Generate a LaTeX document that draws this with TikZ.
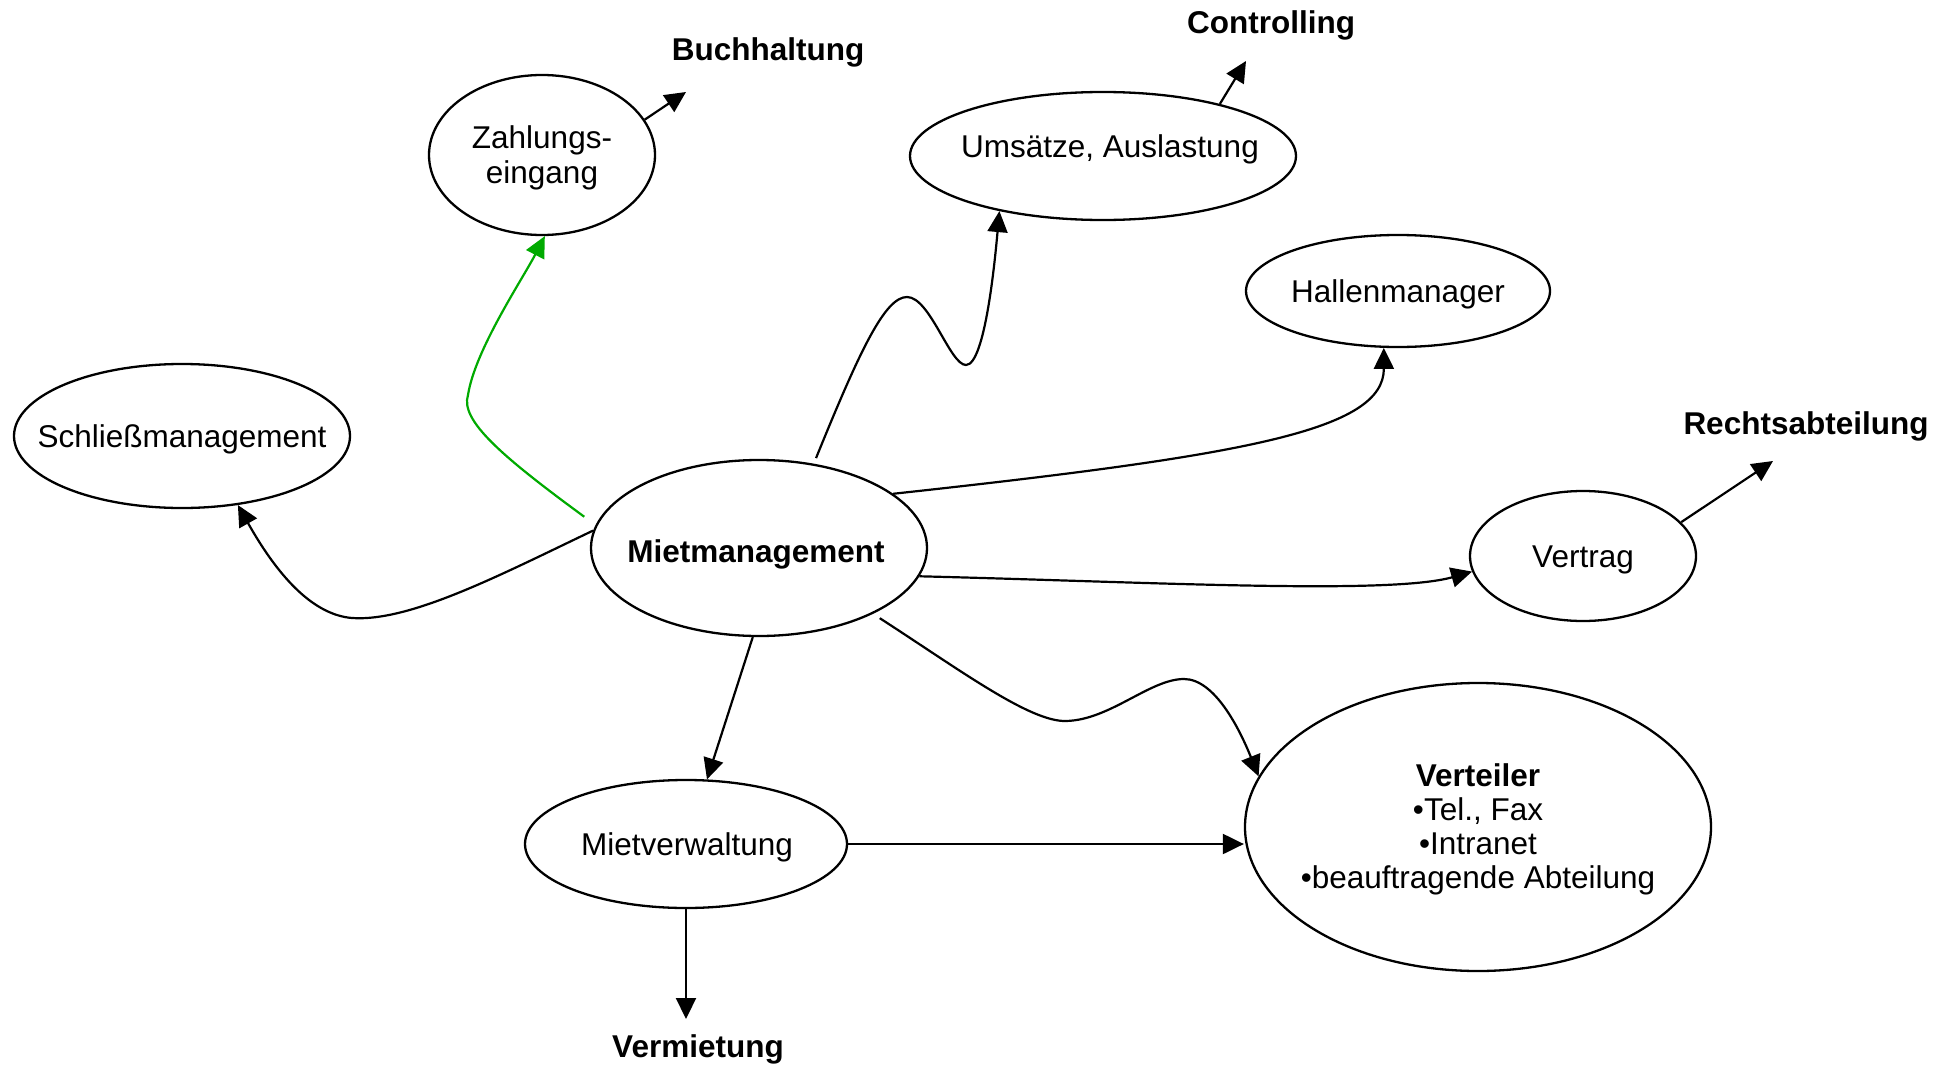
\documentclass[tikz,border=0pt]{standalone}
\usepackage{fontspec}
\setmainfont{Liberation Sans}
\usetikzlibrary{shapes.geometric,arrows.meta}
\definecolor{linegreen}{RGB}{0,170,0}
\begin{document}
\begin{tikzpicture}[x=1pt,y=-1pt,
  ell/.style={ellipse,draw,line width=2.3pt,inner sep=0pt},
  txt/.style={font=\fontsize{31.5}{35}\selectfont,align=center,inner sep=0pt},
  lbl/.style={font=\fontsize{31.5}{35}\selectfont\bfseries,inner sep=0pt,anchor=base},
  conn/.style={line width=2.2pt,-{Triangle[length=21pt,width=20pt]}},
]
\useasboundingbox (0,0) rectangle (1944,1065);

% ellipses
\node[ell,minimum width=226pt,minimum height=160pt] (zahl) at (542,155) {};
\node[ell,minimum width=386pt,minimum height=128pt] (ums) at (1103,156) {};
\node[ell,minimum width=304pt,minimum height=112pt] (hall) at (1398,291) {};
\node[ell,minimum width=336pt,minimum height=144pt] (schl) at (182,436) {};
\node[ell,minimum width=336pt,minimum height=176pt] (miet) at (759,548) {};
\node[ell,minimum width=226pt,minimum height=130pt] (vtr) at (1583,556) {};
\node[ell,minimum width=466pt,minimum height=288pt] (vtl) at (1478,827) {};
\node[ell,minimum width=322pt,minimum height=128pt] (mv) at (686,844) {};

% texts
\node[txt] (zahlt) at (542,158) {Zahlungs-\\[0.3pt]eingang};
\node[txt,anchor=base] (umst) at (1110,157) {Umsätze, Auslastung};
\node[txt,anchor=base] (hallt) at (1398,302) {Hallenmanager};
\node[txt,anchor=base] (schlt) at (182,447) {Schließmanagement};
\node[txt,anchor=base,font=\fontsize{31.5}{35}\selectfont\bfseries] (miett) at (756,562) {Mietmanagement};
\node[txt,anchor=base] (vtrt) at (1583,567) {Vertrag};
\node[txt,anchor=base] (mvt) at (687,855) {Mietverwaltung};
\node[txt,font=\fontsize{31.5}{34}\selectfont] (vtlt) at (1478,829) {\textbf{Verteiler}\\•Tel., Fax\\•Intranet\\•beauftragende Abteilung};

% outside labels
\node[lbl] (buch) at (768,61) {Buchhaltung};
\node[lbl] (contr) at (1271,34) {Controlling};
\node[lbl] (recht) at (1806,434) {Rechtsabteilung};
\node[lbl] (verm) at (698,1057) {Vermietung};

\coordinate (btip) at (686,92);
\coordinate (ctip) at (1246,61);
\coordinate (rtip) at (1773,461);
\coordinate (vtip) at (686,1019);

% connectors
\draw[conn,linegreen,shorten <=14pt] (miet.172) .. controls (500,455) and (460,420) .. (468,395)
  .. controls (475,350) and (522,280) .. (zahl.-88);
\draw[conn] (miet.174) .. controls (500,575) and (410,622) .. (352,618)
  .. controls (315,615) and (280,580) .. (schl.-51);
\draw[conn,shorten <=6pt] (miet.57) .. controls (860,350) and (885,297) .. (907,297)
  .. controls (930,297) and (950,365) .. (966,365)
  .. controls (985,365) and (995,260) .. (ums.208);
\draw[conn] (miet.22) .. controls (1250,455) and (1384,430) .. (hall.-104);
\draw[conn] (miet.-10) .. controls (1150,582) and (1390,595) .. (vtr.188);
\draw[conn,shorten <=8pt] (miet.-30) .. controls (960,670) and (1030,722) .. (1066,721)
  .. controls (1110,720) and (1150,679) .. (1184,679)
  .. controls (1215,679) and (1240,730) .. (vtl.167);
\draw[conn] (miet.-94.5) -- (mv.72);
\draw[conn] (mv.east) -- (mv.east -| vtl.west);
\draw[conn] (mv.south) -- (vtip);
\draw[conn] (zahl.19) -- (btip);
\draw[conn] (ums.24) -- (ctip);
\draw[conn] (vtr.19) -- (rtip);
\end{tikzpicture}
\end{document}
